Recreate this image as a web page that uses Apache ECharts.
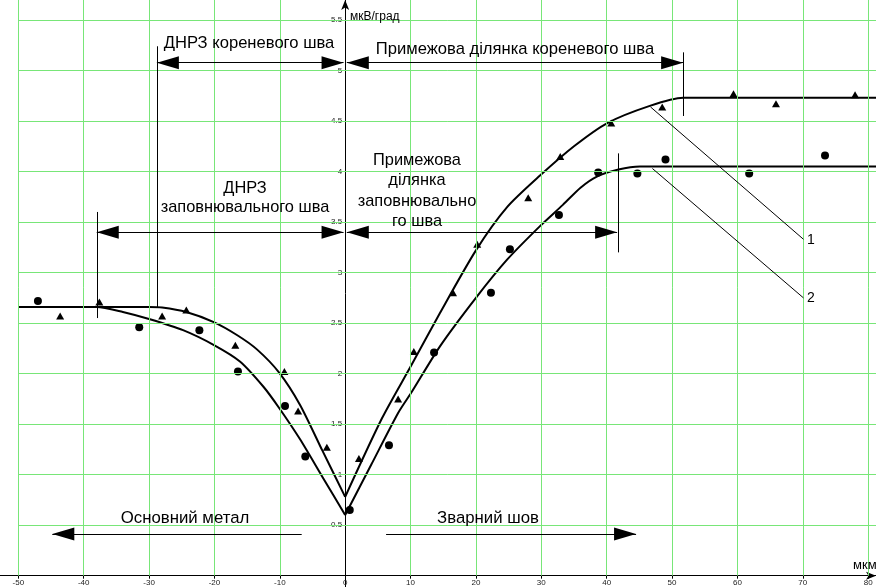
<!DOCTYPE html>
<html>
<head>
<meta charset="utf-8">
<script src="https://cdn.jsdelivr.net/npm/echarts@6/dist/echarts.min.js"></script>
<style>
  html, body { margin: 0; padding: 0; background: #fff; }
  #chart { width: 876px; height: 587px; }
</style>
</head>
<body>
<div id="chart"></div>
<script>
// відлік: x у мкм, y у мкВ/град
const xTicks = [-50, -40, -30, -20, -10, 0, 10, 20, 30, 40, 50, 60, 70, 80];
const yTicks = [0.5, 1, 1.5, 2, 2.5, 3, 3.5, 4, 4.5, 5, 5.5];

// крива 1 (верхня) - ліва і права гілки
const curve1Left = [[-50, 2.66], [-30, 2.66], [-28, 2.655], [-24.3, 2.61], [-20.1, 2.51],
    [-16.5, 2.38], [-13.5, 2.24], [-10.1, 2.01], [-6.9, 1.69], [-3.5, 1.24], [0, 0.78]];
const curve1Right = [[0, 0.78], [5.65, 1.56], [10.1, 2.08], [14.5, 2.6], [20, 3.22],
    [24.8, 3.65], [29.8, 3.96], [35, 4.25], [40.1, 4.48], [46.6, 4.65], [51.7, 4.73], [81.2, 4.73]];

// крива 2 (нижня)
const curve2Left = [[-50, 2.66], [-38, 2.66], [-34, 2.61], [-30, 2.54], [-24.8, 2.43], [-20, 2.28],
    [-16.1, 2.12], [-12.5, 1.87], [-10.1, 1.66], [-6.9, 1.35], [-3.5, 0.98], [0, 0.6]];
const curve2Right = [[0, 0.6], [4, 1.1], [8.1, 1.61], [10.1, 1.81], [14.5, 2.27], [20, 2.75],
    [24.8, 3.13], [29.8, 3.46], [33.3, 3.67], [36, 3.84], [38.5, 3.95], [41.8, 4.02],
    [45.1, 4.05], [81.2, 4.05]];

// експериментальні точки
const triangles = [[-43.6, 2.57], [-37.6, 2.71], [-28.0, 2.57], [-24.3, 2.63], [-16.8, 2.28],
    [-9.3, 2.02], [-7.2, 1.63], [-2.8, 1.27], [2.1, 1.16], [8.1, 1.75], [10.5, 2.22],
    [16.5, 2.80], [20.2, 3.28], [28.0, 3.74], [32.9, 4.15], [40.7, 4.48], [48.5, 4.64],
    [59.4, 4.77], [65.9, 4.67], [78.0, 4.76]];
const circles = [[-47.0, 2.72], [-31.5, 2.46], [-22.3, 2.43], [-16.4, 2.02], [-9.2, 1.68],
    [-6.1, 1.18], [0.7, 0.65], [6.7, 1.29], [13.6, 2.21], [22.3, 2.80], [25.2, 3.23],
    [32.7, 3.57], [38.7, 3.99], [44.7, 3.98], [49.0, 4.12], [61.8, 3.98], [73.4, 4.16]];

// стрілки-зони: [від, до, стрілка на кінцях]
const zoneArrows = [
    [[-28.8, 5.077], [-0.25, 5.077], 'both'],
    [[0.25, 5.077], [51.7, 5.077], 'both'],
    [[-38.0, 3.40], [-0.25, 3.40], 'both'],
    [[0.25, 3.40], [41.6, 3.40], 'both'],
    [[-6.65, 0.413], [-44.8, 0.413], 'end'],
    [[6.26, 0.413], [44.5, 0.413], 'end']
];
const boundLines = [
    [[-28.8, 5.24], [-28.8, 2.65]],
    [[51.7, 5.18], [51.7, 4.55]],
    [[-38.0, 3.60], [-38.0, 2.55]],
    [[41.8, 4.18], [41.8, 3.20]],
    [[46.7, 4.64], [70.1, 3.33]],
    [[47.0, 4.03], [70.1, 2.75]]
];

const X_MIN = -52.8, X_MAX = 81.2, Y_MIN = -0.112, Y_MAX = 5.698;
const W = 876, H = 587;
const FONT = '"Liberation Sans", Arial, sans-serif';

const chart = echarts.init(document.getElementById('chart'));

// осі перетинаються в нулі: зсув від краю сітки
const yAxisOffset = -W * (0 - X_MIN) / (X_MAX - X_MIN);
const xAxisOffset = -H * (0 - Y_MIN) / (Y_MAX - Y_MIN);

const gridLines = [];
xTicks.filter(v => v !== 0).forEach(v => gridLines.push([{ coord: [v, 0] }, { coord: [v, Y_MAX] }]));
yTicks.forEach(v => gridLines.push([{ coord: [-50, v] }, { coord: [X_MAX, v] }]));

const head = { symbol: 'triangle', symbolSize: [13, 22], symbolOffset: [0, '50%'] };
const noHead = { symbol: 'none' };
const annLines = zoneArrows.map(a => [
    Object.assign({ coord: a[0] }, a[2] === 'both' ? head : noHead),
    Object.assign({ coord: a[1] }, head)
]);
boundLines.forEach(b => annLines.push([Object.assign({ coord: b[0] }, noHead), Object.assign({ coord: b[1] }, noHead)]));

function curve(data) {
    return {
        type: 'line', data: data, showSymbol: false, smooth: 0.25, z: 3,
        lineStyle: { color: '#000', width: 2 }, silent: true
    };
}

function txt(text, x, y, size, align, lh) {
    return {
        type: 'text', x: x, y: y, z: 10,
        style: {
            text: text, fill: '#000', font: size + 'px ' + FONT,
            align: align || 'center', verticalAlign: 'middle', lineHeight: lh || size
        }
    };
}

chart.setOption({
    animation: false,
    backgroundColor: '#fff',
    grid: { left: 0, right: 0, top: 0, bottom: 0, containLabel: false, outerBoundsMode: 'none' },
    xAxis: {
        type: 'value', min: X_MIN, max: X_MAX, position: 'bottom', offset: xAxisOffset,
        axisLine: { onZero: false, lineStyle: { color: '#000', width: 1 }, symbol: ['none', 'arrow'], symbolSize: [6, 10] },
        axisTick: { show: true, customValues: xTicks, length: 3, lineStyle: { color: '#000' } },
        axisLabel: { customValues: xTicks, fontSize: 8, color: '#222', margin: 3, fontFamily: FONT },
        splitLine: { show: false }
    },
    yAxis: {
        type: 'value', min: Y_MIN, max: Y_MAX, position: 'left', offset: yAxisOffset,
        axisLine: { onZero: false, lineStyle: { color: '#000', width: 1 }, symbol: ['none', 'arrow'], symbolSize: [6, 10] },
        axisTick: { show: true, customValues: yTicks, length: 3, lineStyle: { color: '#000' } },
        axisLabel: { customValues: yTicks, fontSize: 8, color: '#222', margin: 3, fontFamily: FONT },
        splitLine: { show: false }
    },
    series: [
        {
            type: 'line', data: [], z: 1, silent: true,
            markLine: {
                silent: true, symbol: ['none', 'none'], label: { show: false },
                lineStyle: { color: '#78e678', width: 1, type: 'solid', opacity: 1 },
                emphasis: { disabled: true },
                data: gridLines
            }
        },
        curve(curve1Left), curve(curve1Right), curve(curve2Left), curve(curve2Right),
        {
            type: 'scatter', data: triangles, symbol: 'triangle', symbolSize: [8, 7], z: 4,
            itemStyle: { color: '#000', opacity: 1 }, silent: true
        },
        {
            type: 'scatter', data: circles, symbol: 'circle', symbolSize: 8, z: 4,
            itemStyle: { color: '#000', opacity: 1 }, silent: true
        },
        {
            type: 'line', data: [], z: 5, silent: true,
            markLine: {
                silent: true, label: { show: false },
                lineStyle: { color: '#000', width: 1, type: 'solid', opacity: 1 },
                itemStyle: { color: '#000' },
                emphasis: { disabled: true },
                data: annLines
            }
        }
    ],
    graphic: [
        txt('ДНРЗ кореневого шва', 249, 43, 16.6),
        txt('Примежова ділянка кореневого шва', 515, 49, 16.6),
        txt('ДНРЗ\nзаповнювального шва', 245, 198, 16.4, 'center', 19),
        txt('Примежова\nділянка\nзаповнювально\nго шва', 417, 191, 16.4, 'center', 20.3),
        txt('Основний метал', 185, 518, 16.8),
        txt('Зварний шов', 488, 518, 16.8),
        txt('1', 807, 240, 14, 'left'),
        txt('2', 807, 298, 14, 'left'),
        txt('мкВ/град', 350, 17, 12, 'left'),
        txt('мкм', 853, 565, 13, 'left')
    ]
});
</script>
</body>
</html>
